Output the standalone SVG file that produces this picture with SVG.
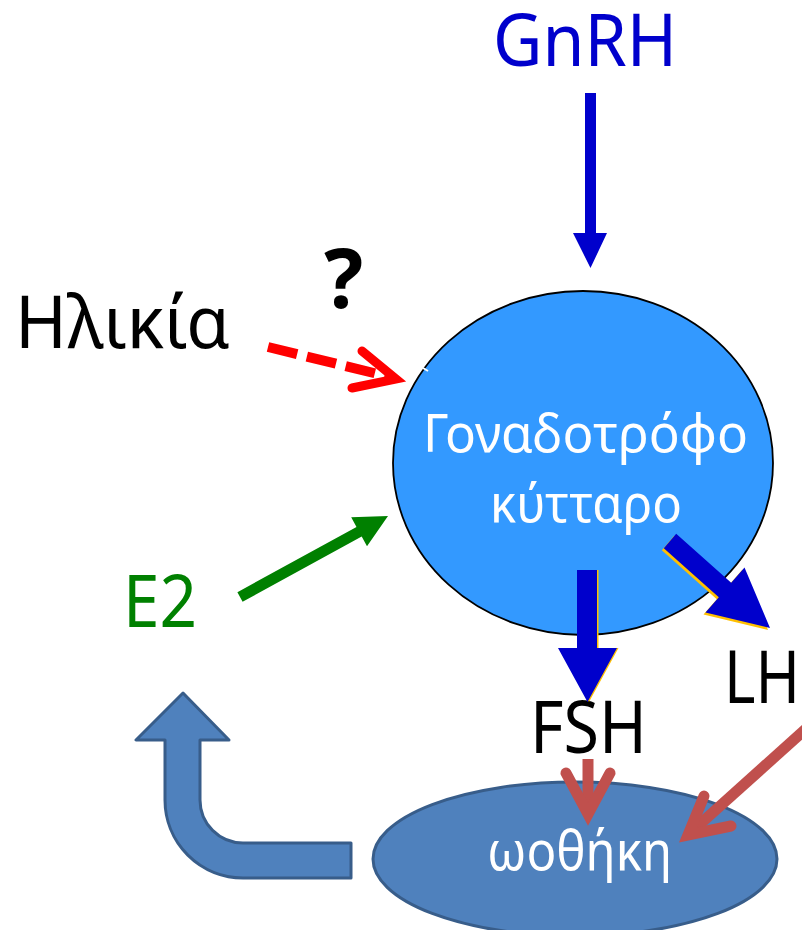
<svg xmlns="http://www.w3.org/2000/svg" width="802" height="930" viewBox="0 0 802 930">
<style>
.lbl{font-family:"Noto Sans","Open Sans","DejaVu Sans",sans-serif;font-size:73px}
.in{font-family:"Noto Sans","Open Sans","DejaVu Sans",sans-serif;fill:#FFFFFF}
.blue{fill:#0000CC}
.red{fill:none;stroke:#C0504D;stroke-width:11}
</style>
<rect width="802" height="930" fill="#FFFFFF"/>
<g id="cell">
<ellipse cx="583" cy="463" rx="190" ry="172" fill="#3399FF" stroke="#000000" stroke-width="1.8"/>
<line x1="423" y1="368" x2="428" y2="371" stroke="#FFFFFF" stroke-width="2"/>
<text class="in" x="423" y="452" font-size="52" textLength="325" lengthAdjust="spacingAndGlyphs">Γοναδοτρόφο</text>
<text class="in" x="490" y="522" font-size="52" textLength="192" lengthAdjust="spacingAndGlyphs">κύτταρο</text>
</g>
<g id="ovary">
<ellipse cx="575" cy="859" rx="202" ry="77" fill="#4F81BD" stroke="#385D8A" stroke-width="3"/>
<text class="in" x="487" y="870" font-size="55" textLength="185" lengthAdjust="spacingAndGlyphs">ωοθήκη</text>
</g>
<g id="gnrh"><text class="lbl blue" x="493" y="66" textLength="184" lengthAdjust="spacingAndGlyphs">GnRH</text></g>
<g id="age"><text class="lbl" x="15" y="348" fill="#000000" textLength="215" lengthAdjust="spacingAndGlyphs">Ηλικία</text></g>
<g id="question"><text x="324" y="308" font-family="'Noto Sans','Open Sans',sans-serif" font-weight="bold" font-size="82" fill="#000000">?</text></g>
<g id="e2"><text class="lbl" x="123" y="627" fill="#008000" textLength="74" lengthAdjust="spacingAndGlyphs">E2</text></g>
<g id="fsh"><text class="lbl" x="530" y="753" fill="#000000" textLength="117" lengthAdjust="spacingAndGlyphs">FSH</text></g>
<g id="lh"><text class="lbl" x="724" y="703" fill="#000000" textLength="76" lengthAdjust="spacingAndGlyphs">LH</text></g>
<g id="connectors">
<polygon class="blue" points="585,93 596,93 596,233 607,233 590.5,268 573,233 585,233"/>
<line x1="268" y1="347" x2="390" y2="377" stroke="#FF0000" stroke-width="10" stroke-dasharray="30 10"/>
<polyline points="362,351 396,379 352,388" fill="none" stroke="#FF0000" stroke-width="9" stroke-linecap="round" stroke-linejoin="miter"/>
<polygon fill="#008000" points="237.4,592.2 356.5,527 351.2,517.3 388,516 367,546.3 361.7,536.6 242.6,601.8"/>
<polygon fill="#FFC000" transform="translate(1.5,0)" points="577,570 597,570 597,648 617,648 587.5,702 558,648 577,648"/>
<polygon class="blue" points="577,570 597,570 597,648 617,648 587.5,702 558,648 577,648"/>
<polygon fill="#FFC000" transform="translate(-2,2)" points="676.2,533.8 731.2,582.8 744.5,567.5 770,628 705.5,612.5 718.8,597.2 663.8,548.2"/>
<polygon class="blue" points="676.2,533.8 731.2,582.8 744.5,567.5 770,628 705.5,612.5 718.8,597.2 663.8,548.2"/>
<line class="red" x1="588" y1="759" x2="588" y2="812"/>
<polyline class="red" points="566,773 588,814 610,773" stroke-linecap="round" stroke-linejoin="miter"/>
<line class="red" x1="818" y1="718" x2="690" y2="833"/>
<polyline class="red" points="704,796 688,835 731,826" stroke-linecap="round" stroke-linejoin="miter"/>
<path d="M351,843 L243,843 A43,43 0 0 1 200,800 L200,740 L229,740 L183,693 L136,740 L165,740 L165,800 A78,78 0 0 0 243,878 L351,878 Z" fill="#4F81BD" stroke="#385D8A" stroke-width="3" stroke-linejoin="round"/>
</g>
</svg>
